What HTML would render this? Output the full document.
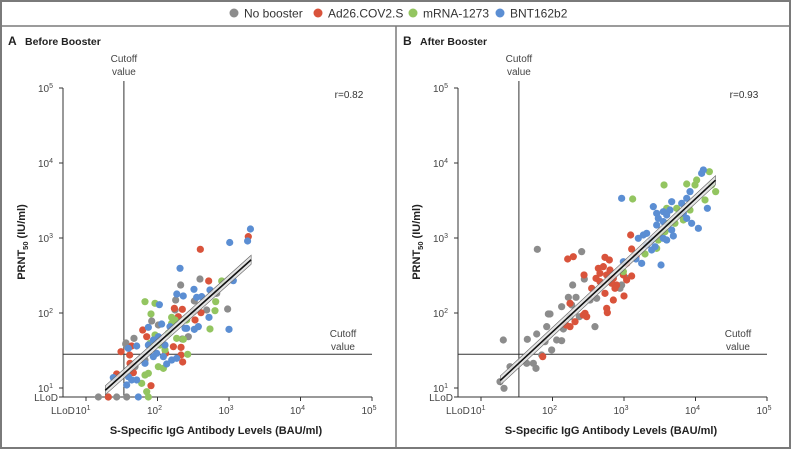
<!DOCTYPE html>
<html><head><meta charset="utf-8"><style>
body{margin:0;background:#fff;}
svg{display:block;font-family:"Liberation Sans",sans-serif;}
</style></head><body>
<svg id="c" width="791" height="449" viewBox="0 0 791 449"></svg>
<script>
// ---- data (log10 units) ----
const xTickLabels=["10","10","10","10","10"];
const xTickExp=["1","2","3","4","5"];
const yTickExp=["1","2","3","4","5"];
const seriesNames=["No booster","Ad26.COV2.S","mRNA-1273","BNT162b2"];
const seriesColors=["#8c8c8c","#d9533b","#93c560","#5b8ed3"];
const rValues=["r=0.82","r=0.93"];
const panelTitles=["Before Booster","After Booster"];
const panelLetters=["A","B"];
const cutoffX=1.53, cutoffY=1.45;
const fitA=[-0.113,0.853], fitB=[-0.026,0.887];
const grayA=[[2.594,2.453],[2.324,2.373],[2.254,2.173],[2.515,2.16],[2.981,2.053],[2.012,1.84],[1.919,1.893],[1.671,1.662],[1.555,1.587],[2.431,1.684],[2.347,1.653],[2.501,2.018],[2.688,2.04],[2.245,2.04],[2.828,2.262],[1.173,0.88],[1.429,0.88],[1.569,0.88],[1.312,0.88],[1.825,1.373],[1.685,1.284],[1.56,1.6]];
const redA=[[2.599,2.849],[3.27,3.018],[2.716,2.427],[2.236,2.062],[2.347,2.049],[2.608,2.004],[1.793,1.773],[1.849,1.684],[1.639,1.56],[1.49,1.484],[1.611,1.44],[2.222,1.551],[2.329,1.542],[2.329,1.44],[2.352,1.347],[2.114,1.462],[1.616,1.329],[1.662,1.204],[1.909,1.031],[1.312,0.88],[1.429,1.187],[2.525,1.907],[2.291,1.951]];
const greenA=[[1.825,2.151],[1.965,2.129],[1.909,1.987],[2.198,1.942],[2.245,1.907],[2.152,1.729],[2.268,1.662],[2.361,1.649],[2.734,1.787],[2.804,2.031],[2.898,2.427],[2.814,2.151],[2.408,1.907],[1.965,1.707],[1.895,1.596],[2.035,1.573],[2.105,1.507],[2.422,1.449],[2.012,1.284],[2.082,1.262],[1.825,1.173],[1.872,1.196],[1.849,0.951],[1.872,0.88],[1.779,1.062],[2.198,1.862]];
const blueA=[[3.30,3.12],[3.01,2.94],[3.26,2.96],[2.315,2.596],[2.51,2.316],[2.27,2.253],[2.36,2.227],[2.026,2.111],[2.548,2.209],[2.618,2.218],[2.734,2.307],[2.72,1.942],[3.0,1.782],[3.06,2.431],[2.058,1.853],[2.175,1.818],[1.872,1.809],[2.408,1.796],[2.515,1.782],[1.942,1.64],[2.012,1.684],[1.872,1.573],[2.105,1.573],[1.988,1.462],[1.942,1.418],[1.825,1.329],[2.082,1.418],[2.128,1.32],[2.198,1.373],[2.268,1.396],[1.709,1.56],[1.592,1.529],[1.569,1.04],[1.732,0.88],[1.382,1.138],[1.592,1.151],[1.639,1.107],[1.709,1.107],[2.385,1.796],[2.571,1.818]];
const grayB=[[1.788,2.849],[2.408,2.818],[2.445,2.453],[2.282,2.373],[2.222,2.209],[2.329,2.209],[2.268,2.107],[1.942,1.987],[1.965,1.987],[2.245,1.951],[2.375,1.951],[2.152,1.787],[2.058,1.64],[2.128,1.631],[1.919,1.818],[1.779,1.72],[1.648,1.649],[1.895,1.618],[1.988,1.507],[1.849,1.44],[1.732,1.329],[1.769,1.262],[1.639,1.329],[1.406,1.284],[1.312,1.64],[1.266,1.084],[1.322,0.996],[2.594,1.818],[2.618,2.196],[2.525,2.173],[2.944,2.329],[2.967,2.373],[3.037,2.462],[2.128,2.084]];
const redB=[[3.093,3.04],[3.107,2.853],[3.168,2.751],[3.037,2.662],[2.991,2.507],[3.107,2.493],[3.037,2.44],[3.0,2.227],[2.897,2.373],[2.851,2.462],[2.804,2.573],[2.734,2.742],[2.795,2.707],[2.641,2.596],[2.711,2.618],[2.609,2.462],[2.548,2.329],[2.664,2.418],[2.758,2.507],[2.828,2.396],[2.874,2.329],[2.734,2.262],[2.851,2.173],[2.758,2.062],[2.767,2.004],[2.441,2.507],[2.455,1.996],[2.478,1.951],[2.431,1.973],[2.315,1.884],[2.245,1.818],[2.189,1.84],[2.291,2.751],[2.212,2.72],[1.863,1.418],[2.245,2.129],[2.664,2.529]];
const greenB=[[3.121,3.52],[3.56,3.707],[3.877,3.72],[3.993,3.707],[4.016,3.773],[4.194,3.884],[4.226,3.707],[4.282,3.618],[4.133,3.507],[3.923,3.373],[3.83,3.24],[3.783,3.307],[3.713,3.196],[3.62,3.196],[3.574,3.084],[3.504,3.04],[3.48,2.973],[3.457,2.862],[3.294,2.787],[2.991,2.551],[3.737,3.396],[3.597,3.396]];
const blueB=[[2.967,3.529],[3.41,3.418],[3.457,3.329],[3.55,3.351],[3.643,3.373],[3.48,3.262],[3.597,3.307],[3.667,3.484],[3.807,3.462],[3.877,3.529],[3.923,3.618],[4.086,3.862],[4.11,3.907],[4.166,3.396],[4.04,3.129],[3.457,3.173],[3.55,3.218],[3.667,3.107],[3.317,3.062],[3.2,2.996],[3.27,3.04],[3.387,2.973],[3.317,2.907],[3.434,2.884],[3.55,2.996],[3.597,2.973],[3.69,3.027],[3.518,2.64],[3.247,2.662],[2.991,2.684],[3.168,2.72],[3.387,2.84],[3.946,3.196],[3.83,3.329],[3.877,3.262]];

const NS="http://www.w3.org/2000/svg";
const svg=document.getElementById('c');
function mk(tag,attrs,parent,txt){const e=document.createElementNS(NS,tag);for(const k in attrs)e.setAttribute(k,attrs[k]);if(txt!==undefined)e.textContent=txt;(parent||svg).appendChild(e);return e;}

// frame
const fr=mk('rect',{x:1,y:1,width:789,height:447,fill:'none',stroke:'#7a7a7a','stroke-width':2});


const hl=mk('line',{x1:0,y1:26,x2:791,y2:26,stroke:'#7a7a7a','stroke-width':1.5});


const vl=mk('line',{x1:396,y1:26,x2:396,y2:449,stroke:'#7a7a7a','stroke-width':1.5});



// legend
const lg=mk('g',{});


const legX=[234,318,413,500];
seriesNames.forEach((n,i)=>{
  const g=mk('g',{},lg);
  
  
  mk('circle',{cx:legX[i],cy:13,r:4.5,fill:seriesColors[i]},g);
  mk('text',{x:legX[i]+10,y:17.5,'font-size':12,fill:'#333'},g,n);
});

function panel(ox,idx,series,fit){
  const g=mk('g',{});
  
  
  const X=l=>ox+86+(l-1)*71.5;
  const Y=l=>388-(l-1)*75;
  const x0=ox+63,y0=397,xE=X(5),yT=Y(5);
  const lt=mk('text',{x:ox+8,y:45,'font-size':12,'font-weight':'bold',fill:'#222'},g,panelLetters[idx]);
  
  
  const tt=mk('text',{x:ox+25,y:45,'font-size':10.5,'font-weight':'bold',fill:'#222'},g,panelTitles[idx]);
  
  
  // axes
  const ax=mk('path',{d:`M${x0},${yT}V${y0}H${xE}`,stroke:'#333','stroke-width':1,fill:'none'},g);
  
  
  for(let i=0;i<5;i++){
    const e=i+1;
    mk('line',{x1:X(e),y1:y0,x2:X(e),y2:y0+4,stroke:'#333'},g);
    const t=mk('text',{x:X(e)-3,y:y0+17,'font-size':10,fill:'#444','text-anchor':'middle'},g,xTickLabels[i]);
    mk('tspan',{'font-size':7,dy:-4},t,xTickExp[i]);
    
    
    mk('line',{x1:x0-4,y1:Y(e),x2:x0,y2:Y(e),stroke:'#333'},g);
    const u=mk('text',{x:x0-10,y:Y(e)+4,'font-size':10,fill:'#444','text-anchor':'end'},g,'10');
    mk('tspan',{'font-size':7,dy:-4},u,yTickExp[i]);
    
    
  }
  mk('line',{x1:x0-4,y1:y0,x2:x0,y2:y0,stroke:'#333'},g);
  mk('text',{x:x0-5,y:y0+4,'font-size':10,fill:'#444','text-anchor':'end'},g,'LLoD');
  mk('text',{x:x0-12,y:y0+17,'font-size':10,fill:'#444'},g,'LLoD');
  // cutoffs
  const cv=mk('line',{x1:X(cutoffX),y1:81,x2:X(cutoffX),y2:y0,stroke:'#333','stroke-width':1},g);
  
  
  const ch=mk('line',{x1:x0,y1:Y(cutoffY),x2:xE,y2:Y(cutoffY),stroke:'#333','stroke-width':1},g);
  
  
  mk('text',{x:X(cutoffX),y:62,'font-size':10,fill:'#444','text-anchor':'middle'},g,'Cutoff');
  mk('text',{x:X(cutoffX),y:75,'font-size':10,fill:'#444','text-anchor':'middle'},g,'value');
  mk('text',{x:ox+343,y:337,'font-size':10,fill:'#444','text-anchor':'middle'},g,'Cutoff');
  mk('text',{x:ox+343,y:350,'font-size':10,fill:'#444','text-anchor':'middle'},g,'value');
  const r=mk('text',{x:ox+349,y:98,'font-size':10,fill:'#333','text-anchor':'middle'},g,rValues[idx]);
  
  
  // axis titles
  const yt=mk('text',{x:0,y:0,'font-size':11,'font-weight':'bold',fill:'#222','text-anchor':'middle',transform:`translate(${ox+25},242) rotate(-90)`},g,'PRNT');
  mk('tspan',{'font-size':7.5,dy:3},yt,'50');
  mk('tspan',{dy:-3},yt,' (IU/ml)');
  
  
  const xt=mk('text',{x:ox+216,y:434,'font-size':11,'font-weight':'bold',fill:'#222','text-anchor':'middle'},g,'S-Specific IgG Antibody Levels (BAU/ml)');
  
  
  // points
  series.forEach((pts,si)=>{
    const sg=mk('g',{},g);
    
    
    pts.forEach(p=>{
      const c=mk('circle',{cx:X(p[0]),cy:Y(p[1]),r:3.6,fill:seriesColors[si]},sg);
      
      
    });
  });
  // regression with band
  const lx0=1.27, lx1=idx===0?3.31:4.28, bw=0.06;
  const f=l=>fit[0]+fit[1]*l;
  const band=mk('path',{d:`M${X(lx0)},${Y(f(lx0)+bw)}L${X(lx1)},${Y(f(lx1)+bw)}L${X(lx1)},${Y(f(lx1)-bw)}L${X(lx0)},${Y(f(lx0)-bw)}Z`,fill:'rgba(225,225,225,0.85)',stroke:'#666','stroke-width':0.6},g);
  
  
  const rl=mk('line',{x1:X(lx0),y1:Y(f(lx0)),x2:X(lx1),y2:Y(f(lx1)),stroke:'#111','stroke-width':1.6},g);
  
  
}
panel(0,0,[grayA,redA,greenA,blueA],fitA);
panel(395,1,[grayB,redB,greenB,blueB],fitB);
</script>
</body></html>
